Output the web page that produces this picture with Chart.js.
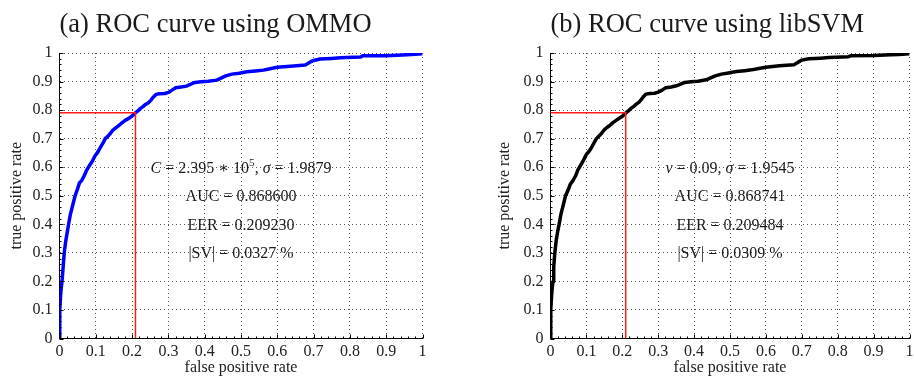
<!DOCTYPE html>
<html>
<head>
<meta charset="utf-8">
<script src="https://cdn.jsdelivr.net/npm/chart.js@4/dist/chart.umd.min.js"></script>
<style>
  html, body { margin: 0; padding: 0; background: #fff; overflow: hidden; }
  #wrap { position: relative; width: 914px; height: 377px; }
  canvas { position: absolute; top: 0; }
</style>
</head>
<body>
<div id="wrap">
  <canvas id="rocA" style="left:0px"></canvas>
  <canvas id="rocB" style="left:457px"></canvas>
</div>
<script>
// --- DATOS ---
const xTickLabels = ['0', '0.1', '0.2', '0.3', '0.4', '0.5', '0.6', '0.7', '0.8', '0.9', '1'];
const yTickLabels = ['0', '0.1', '0.2', '0.3', '0.4', '0.5', '0.6', '0.7', '0.8', '0.9', '1'];

// (a) OMMO
const fprA = [0, 0.0005, 0.001, 0.003, 0.005, 0.007, 0.010, 0.013, 0.017, 0.021, 0.025, 0.030, 0.036, 0.043,
  0.050, 0.055, 0.062, 0.068, 0.075, 0.082, 0.090, 0.098, 0.105, 0.112, 0.120, 0.126, 0.133, 0.140, 0.147,
  0.155, 0.163, 0.172, 0.182, 0.192, 0.200, 0.209, 0.216, 0.222, 0.230, 0.237, 0.245, 0.252, 0.258, 0.266,
  0.275, 0.290, 0.300, 0.310, 0.320, 0.335, 0.350, 0.360, 0.373, 0.390, 0.410, 0.433, 0.445, 0.458, 0.475,
  0.495, 0.516, 0.540, 0.562, 0.580, 0.600, 0.636, 0.677, 0.690, 0.700, 0.718, 0.750, 0.773, 0.810, 0.830,
  0.835, 0.900, 0.945, 0.970, 1.0];
const tprA = [0, 0.05, 0.10, 0.15, 0.18, 0.20, 0.25, 0.30, 0.34, 0.37, 0.40, 0.435, 0.465, 0.50,
  0.525, 0.545, 0.555, 0.57, 0.59, 0.605, 0.62, 0.64, 0.652, 0.668, 0.685, 0.70, 0.708, 0.718, 0.73,
  0.738, 0.746, 0.755, 0.765, 0.772, 0.78, 0.79, 0.797, 0.805, 0.812, 0.82, 0.826, 0.835, 0.845, 0.855,
  0.857, 0.858, 0.862, 0.87, 0.878, 0.881, 0.884, 0.89, 0.897, 0.899, 0.901, 0.905, 0.912, 0.92, 0.926,
  0.929, 0.934, 0.937, 0.94, 0.945, 0.95, 0.954, 0.958, 0.968, 0.974, 0.979, 0.981, 0.983, 0.985, 0.986,
  0.99, 0.99, 0.993, 0.995, 0.997];

// (b) libSVM
const fprB = [0, 0.0005, 0.001, 0.003, 0.005, 0.007, 0.009, 0.012, 0.016, 0.020, 0.024, 0.029, 0.035, 0.042,
  0.049, 0.055, 0.062, 0.070, 0.076, 0.082, 0.090, 0.100, 0.107, 0.114, 0.121, 0.128, 0.135, 0.142, 0.149,
  0.157, 0.165, 0.174, 0.184, 0.194, 0.202, 0.210, 0.217, 0.223, 0.231, 0.238, 0.246, 0.252, 0.258, 0.266,
  0.276, 0.290, 0.300, 0.311, 0.321, 0.336, 0.351, 0.361, 0.374, 0.391, 0.411, 0.434, 0.446, 0.459, 0.476,
  0.496, 0.518, 0.541, 0.560, 0.580, 0.600, 0.638, 0.678, 0.690, 0.700, 0.720, 0.752, 0.775, 0.812, 0.830,
  0.836, 0.900, 0.948, 0.970, 1.0];
const tprB = [0, 0.05, 0.10, 0.15, 0.18, 0.20, 0.25, 0.30, 0.345, 0.375, 0.40, 0.435, 0.465, 0.50,
  0.52, 0.54, 0.552, 0.57, 0.59, 0.603, 0.62, 0.645, 0.655, 0.668, 0.685, 0.70, 0.709, 0.718, 0.73,
  0.739, 0.746, 0.756, 0.765, 0.773, 0.78, 0.79, 0.797, 0.805, 0.812, 0.82, 0.827, 0.836, 0.846, 0.856,
  0.858, 0.859, 0.863, 0.87, 0.878, 0.881, 0.885, 0.89, 0.897, 0.899, 0.901, 0.906, 0.913, 0.92, 0.926,
  0.93, 0.935, 0.938, 0.941, 0.946, 0.95, 0.955, 0.959, 0.968, 0.975, 0.98, 0.982, 0.984, 0.986, 0.987,
  0.99, 0.991, 0.994, 0.995, 0.997];

// punto EER (fpr, tpr)
const eerA = [0.209230, 0.7908];
const eerB = [0.209484, 0.7905];

const infoA = [
  [['C', 'i'], [' = 2.395 \u2217 10', 'n'], ['5', 's'], [', ', 'n'], ['\u03c3', 'i'], [' = 1.9879', 'n']],
  [['AUC = 0.868600', 'n']],
  [['EER = 0.209230', 'n']],
  [['|SV| = 0.0327 %', 'n']]
];
const infoB = [
  [['\u03bd', 'i'], [' = 0.09, ', 'n'], ['\u03c3', 'i'], [' = 1.9545', 'n']],
  [['AUC = 0.868741', 'n']],
  [['EER = 0.209484', 'n']],
  [['|SV| = 0.0309 %', 'n']]
];

const SERIF = '"Liberation Serif", "DejaVu Serif", serif';

function toPoints(xs, ys) {
  return xs.map((x, i) => ({ x: x, y: ys[i] }));
}

function fontFor(style, size) {
  if (style === 'i') return 'italic ' + size + 'px ' + SERIF;
  if (style === 's') return (size * 0.7) + 'px ' + SERIF;
  return size + 'px ' + SERIF;
}

// dibuja una línea de texto con cursiva / superíndice, centrada en cx
function drawRuns(ctx, runs, cx, baseY, size) {
  let total = 0;
  runs.forEach(([t, s]) => { ctx.font = fontFor(s, size); total += ctx.measureText(t).width; });
  let x = cx - total / 2;
  runs.forEach(([t, s]) => {
    ctx.font = fontFor(s, size);
    ctx.fillText(t, x, s === 's' ? baseY - size * 0.42 : baseY);
    x += ctx.measureText(t).width;
  });
}

// --- PLUGIN: título, texto, marcas menores ---
const extrasPlugin = {
  id: 'extras',
  afterDraw(chart) {
    const o = chart.options.plugins.extras;
    const { ctx, chartArea } = chart;
    const xs = chart.scales.x, ys = chart.scales.y;
    ctx.save();
    ctx.fillStyle = '#1a1a1a';
    ctx.textBaseline = 'alphabetic';
    ctx.textAlign = 'left';
    // título del panel
    ctx.font = '26.5px ' + SERIF;
    ctx.fillText(o.title, chartArea.left, 31.5);
    // texto informativo
    const rows = [0.6, 0.5, 0.4, 0.3];
    o.info.forEach((runs, i) => {
      drawRuns(ctx, runs, xs.getPixelForValue(0.5), ys.getPixelForValue(rows[i]) + 5.5, 16);
    });
    // marcas hacia dentro en los ejes
    ctx.strokeStyle = '#000';
    ctx.lineWidth = 1;
    ctx.beginPath();
    for (let k = 0; k <= 50; k++) {
      const v = k / 50;
      const len = (k % 5 === 0) ? 4 : 2;
      const py = Math.round(ys.getPixelForValue(v)) + 0.5;
      ctx.moveTo(chartArea.left, py);
      ctx.lineTo(chartArea.left + len, py);
      const px = Math.round(xs.getPixelForValue(v)) + 0.5;
      ctx.moveTo(px, chartArea.bottom);
      ctx.lineTo(px, chartArea.bottom - len);
    }
    ctx.stroke();
    ctx.restore();
  }
};

function crearPanel(canvasId, opts) {
  const canvas = document.getElementById(canvasId);
  canvas.width = opts.width;
  canvas.height = 377;
  canvas.style.width = opts.width + 'px';
  canvas.style.height = '377px';

  return new Chart(canvas.getContext('2d'), {
    type: 'scatter',
    data: {
      datasets: [
        {
          data: toPoints(opts.fpr, opts.tpr),
          showLine: true,
          borderColor: opts.color,
          borderWidth: 3.5,
          borderJoinStyle: 'round',
          pointRadius: 0,
          tension: 0,
          order: 2
        },
        {
          data: [{ x: 0, y: opts.eer[1] }, { x: opts.eer[0], y: opts.eer[1] }, { x: opts.eer[0], y: 0 }],
          showLine: true,
          borderColor: '#ff1a1a',
          borderWidth: 1.5,
          pointRadius: 0,
          tension: 0,
          order: 1
        }
      ]
    },
    options: {
      responsive: false,
      animation: false,
      events: [],
      layout: { padding: { left: opts.padLeft, right: opts.padRight, top: 53, bottom: 0 } },
      plugins: {
        legend: { display: false },
        tooltip: { enabled: false },
        extras: { title: opts.title, info: opts.info }
      },
      scales: {
        x: {
          type: 'linear',
          min: 0, max: 1,
          afterFit(scale) { scale.height = 38.5; },
          ticks: {
            stepSize: 0.1,
            padding: 3.5,
            color: '#222',
            font: { family: SERIF, size: 16 },
            maxRotation: 0,
            callback: (v, i) => xTickLabels[i]
          },
          grid: { color: '#555', lineWidth: 1, drawTicks: false },
          border: { display: true, color: '#000', width: 1, dash: [1, 3] },
          title: {
            display: true,
            text: 'false positive rate',
            color: '#222',
            font: { family: SERIF, size: 16 },
            padding: { top: 0, bottom: 0 }
          }
        },
        y: {
          type: 'linear',
          min: 0, max: 1,
          afterFit(scale) { scale.width = opts.yWidth; },
          ticks: {
            stepSize: 0.1,
            padding: 7,
            color: '#222',
            font: { family: SERIF, size: 16 },
            callback: (v, i) => yTickLabels[i]
          },
          grid: { color: '#555', lineWidth: 1, drawTicks: false },
          border: { display: true, color: '#000', width: 1, dash: [1, 3] },
          title: {
            display: true,
            text: 'true positive rate',
            color: '#222',
            font: { family: SERIF, size: 16 },
            padding: { top: 7.5, bottom: 0 }
          }
        }
      }
    },
    plugins: [extrasPlugin]
  });
}

crearPanel('rocA', {
  width: 457, padLeft: 0, padRight: 34.5, yWidth: 59.5,
  fpr: fprA, tpr: tprA, eer: eerA, color: '#0000ff',
  title: '(a) ROC curve using OMMO', info: infoA
});

crearPanel('rocB', {
  width: 460, padLeft: 31, padRight: 5.5, yWidth: 62.5,
  fpr: fprB, tpr: tprB, eer: eerB, color: '#000000',
  title: '(b) ROC curve using libSVM', info: infoB
});
</script>
</body>
</html>
